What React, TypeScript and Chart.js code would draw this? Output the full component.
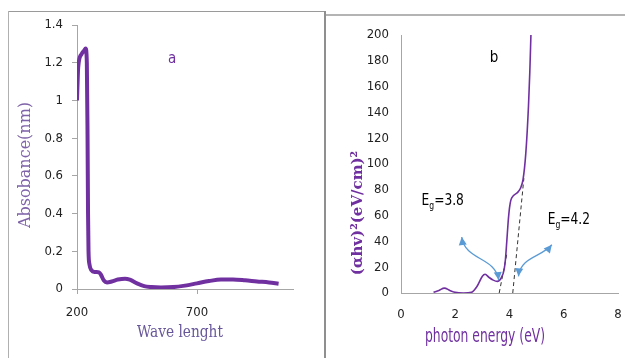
import React, { useEffect, useRef } from "react";
import { Chart, registerables } from "chart.js";

Chart.register(...registerables);

// ---------- Panel a: absorbance spectrum ----------
const wavelength = [200, 205, 219, 230, 236, 241, 244, 246, 248, 252, 260, 275, 292, 300, 312, 325, 345, 370, 400, 420, 450, 480, 510, 550, 600, 650, 700, 750, 800, 850, 900, 950, 1000, 1040];
const absorbance = [1.0, 1.176, 1.246, 1.265, 1.276, 1.2, 0.8, 0.4, 0.2, 0.13, 0.1, 0.09, 0.088, 0.075, 0.045, 0.035, 0.04, 0.05, 0.055, 0.05, 0.03, 0.015, 0.01, 0.008, 0.01, 0.018, 0.03, 0.042, 0.05, 0.05, 0.046, 0.04, 0.035, 0.028];
const wavelengthTicks = [200, 700];

// ---------- Panel b: Tauc plot ----------
const photonEnergy = [1.2, 1.4, 1.6, 1.8, 2.0, 2.3, 2.6, 2.8, 3.0, 3.1, 3.25, 3.4, 3.55, 3.7, 3.8, 3.85, 3.9, 3.95, 4.0, 4.05, 4.15, 4.3, 4.4, 4.5, 4.6, 4.7, 4.75, 4.79];
const taucValues = [0.5, 2, 3.8, 2, 0.5, 0, 0.5, 5, 13, 14.5, 12, 10, 9, 12, 18, 26, 40, 55, 66, 72, 75.5, 78, 81, 88, 108, 145, 172, 200];
const tangent1X = [3.62, 3.9];
const tangent1Y = [0, 30];
const tangent2X = [4.12, 4.53];
const tangent2Y = [0, 89];
const eg1 = { label: "3.8", x: 0.76, y: 72 };
const eg2 = { label: "4.2", x: 5.41, y: 57 };
const arrow1 = [[2.24, 43.4], [2.35, 25], [3.5, 28], [3.6, 10]];
const arrow2 = [[4.33, 12.9], [4.4, 28], [5.2, 28], [5.56, 37.4]];

const PURPLE = "#7030a0";
const SANS = "'Liberation Sans Narrow', 'DejaVu Sans Condensed', 'Liberation Sans', sans-serif";
const SERIF = "'DejaVu Serif', 'Liberation Serif', serif";
const AXIS = "#a6a6a6";

function drawArrowHead(ctx: CanvasRenderingContext2D, tipX: number, tipY: number, fromX: number, fromY: number) {
  const ang = Math.atan2(tipY - fromY, tipX - fromX);
  const len = 8;
  const w = 4;
  ctx.beginPath();
  ctx.moveTo(tipX, tipY);
  ctx.lineTo(tipX - len * Math.cos(ang) + w * Math.sin(ang), tipY - len * Math.sin(ang) - w * Math.cos(ang));
  ctx.lineTo(tipX - len * Math.cos(ang) - w * Math.sin(ang), tipY - len * Math.sin(ang) + w * Math.cos(ang));
  ctx.closePath();
  ctx.fill();
}

// draw text squeezed horizontally (emulates a narrow font); returns drawn width
function fillNarrow(ctx: CanvasRenderingContext2D, text: string, x: number, y: number, sx: number, align: "left" | "center") {
  const w = ctx.measureText(text).width * sx;
  ctx.save();
  ctx.textAlign = "left";
  const left = align === "center" ? x - w / 2 : x;
  ctx.translate(left, y);
  ctx.scale(sx, 1);
  ctx.fillText(text, 0, 0);
  ctx.restore();
  return w;
}

const zeroPad = (s: any) => {
  s.paddingLeft = 0;
  s.paddingRight = 0;
  s.paddingTop = 0;
  s.paddingBottom = 0;
};

const leftPlugin = {
  id: "leftText",
  afterDraw(chart: any) {
    const ctx = chart.ctx as CanvasRenderingContext2D;
    const xs = chart.scales.x;
    const ys = chart.scales.y;
    ctx.save();
    ctx.translate(17, 153);
    ctx.rotate(-Math.PI / 2);
    ctx.font = `16px ${SERIF}`;
    ctx.fillStyle = "#7f63a8";
    ctx.textAlign = "center";
    ctx.textBaseline = "middle";
    ctx.fillText("Absobance(nm)", 0, 0);
    ctx.restore();
    ctx.save();
    ctx.font = `16px ${SERIF}`;
    ctx.fillStyle = "#67579a";
    ctx.textBaseline = "middle";
    const w = ctx.measureText("Wave lenght").width;
    fillNarrow(ctx, "Wave lenght", 171, 321, 86 / w, "center");
    ctx.font = `15px ${SANS}`;
    ctx.fillStyle = PURPLE;
    ctx.textAlign = "center";
    ctx.fillText("a", xs.getPixelForValue(596), ys.getPixelForValue(1.22));
    ctx.restore();
  },
};

const rightPlugin = {
  id: "rightText",
  afterDraw(chart: any) {
    const ctx = chart.ctx as CanvasRenderingContext2D;
    const xs = chart.scales.x;
    const ys = chart.scales.y;
    ctx.save();
    ctx.translate(32, 197);
    ctx.rotate(-Math.PI / 2);
    ctx.font = `bold 15px ${SERIF}`;
    ctx.fillStyle = PURPLE;
    ctx.textAlign = "center";
    ctx.textBaseline = "middle";
    ctx.fillText("(αhv)²(eV/cm)²", 0, 0);
    ctx.restore();

    ctx.save();
    ctx.font = `19px ${SANS}`;
    ctx.fillStyle = PURPLE;
    ctx.textBaseline = "middle";
    const tw = ctx.measureText("photon energy (eV)").width;
    fillNarrow(ctx, "photon energy (eV)", 159, 321, 120 / tw, "center");
    ctx.fillStyle = "#000";
    ctx.font = `15px ${SANS}`;
    ctx.textAlign = "center";
    ctx.fillText("b", xs.getPixelForValue(3.43), ys.getPixelForValue(182));

    // Eg labels
    ctx.textBaseline = "alphabetic";
    for (const eg of [eg1, eg2]) {
      let px = xs.getPixelForValue(eg.x);
      const py = ys.getPixelForValue(eg.y) + 5;
      ctx.font = `16px ${SANS}`;
      px += fillNarrow(ctx, "E", px, py, 0.85, "left");
      ctx.font = `10px ${SANS}`;
      px += fillNarrow(ctx, "g", px, py + 4, 0.85, "left");
      ctx.font = `16px ${SANS}`;
      fillNarrow(ctx, "=" + eg.label, px, py, 0.85, "left");
    }

    // curved double arrows
    ctx.strokeStyle = "#5b9bd5";
    ctx.fillStyle = "#5b9bd5";
    ctx.lineWidth = 1.3;
    for (const a of [arrow1, arrow2]) {
      const p = a.map(([vx, vy]) => [xs.getPixelForValue(vx), ys.getPixelForValue(vy)]);
      ctx.beginPath();
      ctx.moveTo(p[0][0], p[0][1]);
      ctx.bezierCurveTo(p[1][0], p[1][1], p[2][0], p[2][1], p[3][0], p[3][1]);
      ctx.stroke();
      drawArrowHead(ctx, p[0][0], p[0][1], p[1][0], p[1][1]);
      drawArrowHead(ctx, p[3][0], p[3][1], p[2][0], p[2][1]);
    }
    ctx.restore();
  },
};

function LeftChart() {
  const ref = useRef<HTMLCanvasElement>(null);
  useEffect(() => {
    const chart = new Chart(ref.current as HTMLCanvasElement, {
      type: "line",
      data: {
        datasets: [
          {
            data: wavelength.map((x, i) => ({ x, y: absorbance[i] })),
            borderColor: PURPLE,
            borderWidth: 4,
            pointRadius: 0,
            cubicInterpolationMode: "monotone",
            fill: false,
          },
        ],
      },
      options: {
        responsive: false,
        animation: false,
        layout: { padding: { left: 0, top: 13, right: 31, bottom: 0 } },
        plugins: { legend: { display: false }, tooltip: { enabled: false } },
        scales: {
          x: {
            type: "linear",
            min: 200,
            max: 1100,
            afterBuildTicks: (s: any) => {
              s.ticks = wavelengthTicks.map((v) => ({ value: v }));
            },
            afterFit: (s: any) => {
              s.height = 69;
              zeroPad(s);
            },
            grid: { display: true, drawOnChartArea: false, drawTicks: true, tickLength: 5, color: AXIS },
            border: { color: AXIS },
            ticks: { font: { family: SANS, size: 13 }, color: "#222", padding: 11, maxRotation: 0 },
          },
          y: {
            min: 0,
            max: 1.4,
            afterFit: (s: any) => {
              s.width = 68;
              zeroPad(s);
            },
            grid: { display: true, drawOnChartArea: false, drawTicks: true, tickLength: 5, color: AXIS },
            border: { color: AXIS },
            ticks: {
              stepSize: 0.2,
              font: { family: SANS, size: 13 },
              color: "#222",
              padding: 9,
              callback: (v: any) => String(Math.round(Number(v) * 10) / 10),
            },
          },
        },
      },
      plugins: [leftPlugin],
    } as any);
    return () => chart.destroy();
  }, []);
  return <canvas ref={ref} width={315} height={346} style={{ position: "absolute", left: 9, top: 12 }} />;
}

function RightChart() {
  const ref = useRef<HTMLCanvasElement>(null);
  useEffect(() => {
    const dash = { borderColor: "#333", borderWidth: 1, borderDash: [4, 3], pointRadius: 0, fill: false };
    const chart = new Chart(ref.current as HTMLCanvasElement, {
      type: "line",
      data: {
        datasets: [
          {
            data: photonEnergy.map((x, i) => ({ x, y: taucValues[i] })),
            borderColor: PURPLE,
            borderWidth: 1.6,
            pointRadius: 0,
            cubicInterpolationMode: "monotone",
            fill: false,
          },
          { ...dash, data: tangent1X.map((x, i) => ({ x, y: tangent1Y[i] })) },
          { ...dash, data: tangent2X.map((x, i) => ({ x, y: tangent2Y[i] })) },
        ],
      },
      options: {
        responsive: false,
        animation: false,
        layout: { padding: { left: 0, top: 19, right: 7, bottom: 0 } },
        plugins: { legend: { display: false }, tooltip: { enabled: false } },
        scales: {
          x: {
            type: "linear",
            min: 0,
            max: 8,
            afterFit: (s: any) => {
              s.height = 65;
              zeroPad(s);
            },
            grid: { display: false, drawTicks: false },
            border: { color: AXIS },
            ticks: { stepSize: 2, font: { family: SANS, size: 13 }, color: "#222", padding: 14, maxRotation: 0 },
          },
          y: {
            min: 0,
            max: 200,
            afterFit: (s: any) => {
              s.width = 75;
              zeroPad(s);
            },
            grid: { display: false, drawTicks: false },
            border: { color: AXIS },
            ticks: { stepSize: 20, font: { family: SANS, size: 13 }, color: "#222", padding: 12 },
          },
        },
      },
      plugins: [rightPlugin],
    } as any);
    return () => chart.destroy();
  }, []);
  return <canvas ref={ref} width={299} height={342} style={{ position: "absolute", left: 326, top: 16 }} />;
}

export default function App() {
  return (
    <div style={{ position: "absolute", left: 0, top: 0, width: 625, height: 358, overflow: "hidden", background: "#fff" }}>
      <div style={{ position: "absolute", left: 8, top: 11, width: 316, height: 1, background: "#9a9a9a" }} />
      <div style={{ position: "absolute", left: 8, top: 11, width: 1, height: 347, background: "#b0b0b0" }} />
      <div style={{ position: "absolute", left: 324, top: 11, width: 2, height: 347, background: "#8f8f8f" }} />
      <div style={{ position: "absolute", left: 326, top: 14, width: 299, height: 2, background: "#b4b4b4" }} />
      <LeftChart />
      <RightChart />
    </div>
  );
}
